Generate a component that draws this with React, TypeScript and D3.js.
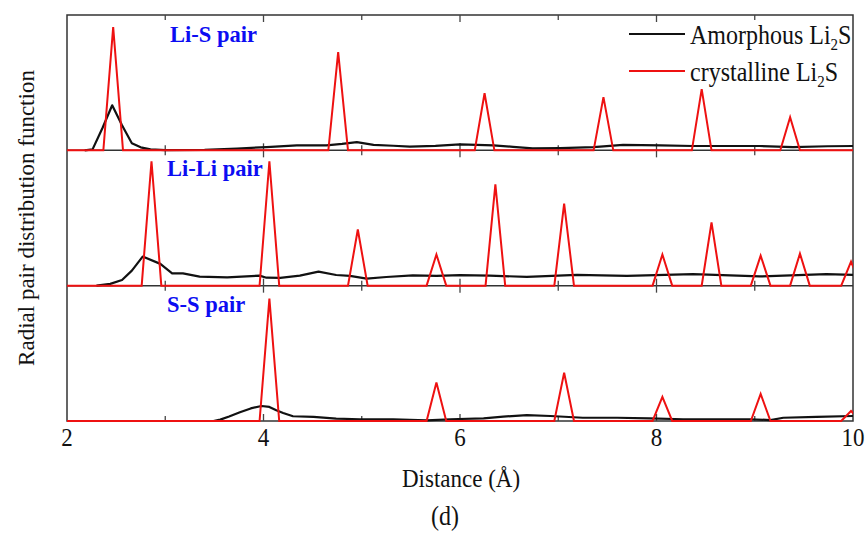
import React from "react";
import * as d3 from "d3";

// ---------- data ----------
const xTicks = [2, 4, 6, 8, 10];
const minorTicks = [3, 4, 5, 6, 7, 8, 9];
const panelLabels = ["Li-S pair", "Li-Li pair", "S-S pair"];
const legendLabels = ["Amorphous Li", "crystalline Li"];

// amorphous Li2S  [distance (Å), g(r)]
const amorphousLiS: [number, number][] = [
  [2.18, 0], [2.26, 0.07], [2.36, 1.63], [2.46, 3.33], [2.56, 1.85], [2.66, 0.52],
  [2.75, 0.22], [2.85, 0.07], [3.0, 0.02], [3.4, 0.04], [3.73, 0.13], [4.03, 0.24],
  [4.34, 0.37], [4.64, 0.37], [4.8, 0.48], [4.95, 0.61], [5.12, 0.4], [5.32, 0.34],
  [5.49, 0.27], [5.75, 0.33], [6.0, 0.44], [6.34, 0.37], [6.54, 0.26], [6.74, 0.15],
  [7.02, 0.17], [7.36, 0.24], [7.66, 0.41], [8.04, 0.37], [8.37, 0.32], [8.72, 0.32],
  [9.05, 0.32], [9.39, 0.24], [9.74, 0.3], [10.0, 0.32],
];
const amorphousLiLi: [number, number][] = [
  [2.3, 0], [2.44, 0.13], [2.56, 0.42], [2.66, 1.11], [2.77, 2.15], [2.95, 1.61],
  [3.07, 0.91], [3.18, 0.91], [3.35, 0.67], [3.63, 0.61], [3.96, 0.74], [4.03, 0.59],
  [4.17, 0.57], [4.37, 0.74], [4.56, 1.04], [4.74, 0.79], [4.88, 0.72], [5.05, 0.52],
  [5.25, 0.64], [5.52, 0.76], [5.76, 0.72], [6.0, 0.78], [6.3, 0.74], [6.68, 0.65],
  [7.19, 0.8], [7.7, 0.73], [8.37, 0.85], [9.05, 0.68], [9.73, 0.85], [10.0, 0.8],
];
const amorphousSS: [number, number][] = [
  [3.49, 0], [3.56, 0.1], [3.65, 0.33], [3.76, 0.64], [3.87, 0.93], [3.98, 1.11],
  [4.06, 1.04], [4.13, 0.79], [4.2, 0.59], [4.3, 0.35], [4.51, 0.3], [4.74, 0.17],
  [4.98, 0.13], [5.32, 0.13], [5.66, 0.05], [5.9, 0.13], [6.24, 0.2], [6.44, 0.32],
  [6.68, 0.44], [6.92, 0.37], [7.25, 0.24], [7.6, 0.24], [7.93, 0.2], [8.27, 0.13],
  [8.61, 0.13], [8.95, 0.13], [9.16, 0.07], [9.29, 0.24], [9.63, 0.3], [10.0, 0.37],
];

// crystalline Li2S peaks [distance (Å), height]
const crystallineLiS: [number, number][] = [
  [2.47, 9.1], [4.76, 7.26], [6.25, 4.22], [7.46, 3.93], [8.46, 4.52], [9.36, 2.44],
];
const crystallineLiLi: [number, number][] = [
  [2.86, 9.19], [4.06, 9.19], [4.96, 4.15], [5.76, 2.3], [6.36, 7.48], [7.06, 6.07],
  [8.06, 2.3], [8.56, 4.67], [9.06, 2.22], [9.46, 2.37], [9.98, 1.78],
];
const crystallineSS: [number, number][] = [
  [4.06, 9.04], [5.76, 2.85], [7.06, 3.56], [8.06, 1.78], [9.06, 2.0], [9.98, 0.74],
];

const amorphousSeries = [amorphousLiS, amorphousLiLi, amorphousSS];
const crystallineSeries = [crystallineLiS, crystallineLiLi, crystallineSS];

// ---------- layout ----------
const W = 866;
const H = 533;
const left = 67;
const right = 853;
const top = 15;
const bottom = 421;
const panelH = (bottom - top) / 3;
const peakHalfWidth = 0.1;
const FONT = "'Liberation Serif', 'Times New Roman', serif";
const RED = "#ee1111";
const BLUE = "#0c0cf2";
const STRETCH = 1.13;

function SText(props: { x: number; y: number; size: number; anchor?: string; children: React.ReactNode }) {
  return (
    <g transform={`translate(${props.x}, ${props.y}) scale(1, ${STRETCH})`}>
      <text x={0} y={0} textAnchor={props.anchor || "start"} fontFamily={FONT} fontSize={props.size} fill="#111">
        {props.children}
      </text>
    </g>
  );
}

export default function App() {
  const x = d3.scaleLinear().domain([2, 10]).range([left, right]);

  const panels = [0, 1, 2].map((i) => {
    const y0 = top + i * panelH;
    const y = d3.scaleLinear().domain([0, 10]).range([y0 + panelH, y0]);
    const line = d3
      .line<[number, number]>()
      .x((d) => x(d[0]))
      .y((d) => y(d[1]));
    const redPts: [number, number][] = [[2, 0]];
    crystallineSeries[i].forEach(([c, h]) => {
      redPts.push([c - peakHalfWidth, 0], [c, h], [c + peakHalfWidth, 0]);
    });
    redPts.push([10.2, 0]);
    return { y0, y, black: line(amorphousSeries[i]) || "", red: line(redPts) || "" };
  });

  const boundaries = [0, 1, 2, 3].map((i) => top + i * panelH);

  return (
    <svg width={W} height={H} style={{ display: "block", position: "absolute", left: 0, top: 0 }}>
      <rect width={W} height={H} fill="#fff" />
      <defs>
        <clipPath id="plotClip">
          <rect x={left} y={top - 2} width={right - left} height={bottom - top + 4} />
        </clipPath>
      </defs>

      {/* frame and separators */}
      <rect x={left} y={top} width={right - left} height={bottom - top} fill="none" stroke="#333" strokeWidth={1.5} />
      {boundaries.slice(1, 3).map((b) => (
        <line key={b} x1={left} x2={right} y1={b} y2={b} stroke="#333" strokeWidth={1.5} />
      ))}

      {/* ticks */}
      {boundaries.map((b, bi) =>
        minorTicks.map((t) => {
          const len = t % 2 === 0 ? 7 : 5;
          const up = bi > 0 ? len : 0;
          const down = bi < 3 ? len : 0;
          return (
            <line key={`${bi}-${t}`} x1={x(t)} x2={x(t)} y1={b - up} y2={b + down} stroke="#444" strokeWidth={1.3} />
          );
        })
      )}

      <g clipPath="url(#plotClip)">
        {panels.map((p, i) => (
          <g key={i}>
            <path d={p.black} fill="none" stroke="#111" strokeWidth={2.2} strokeLinejoin="round" />
            <path d={p.red} fill="none" stroke={RED} strokeWidth={2} strokeLinejoin="miter" />
          </g>
        ))}
      </g>

      {/* panel labels */}
      {panels.map((p, i) => (
        <text
          key={i}
          x={i === 0 ? 170 : 167}
          y={p.y0 + (i === 0 ? 27 : 26)}
          fontFamily={FONT}
          fontWeight="bold"
          fontSize={22.5}
          fill={BLUE}
        >
          {panelLabels[i]}
        </text>
      ))}

      {/* legend */}
      {[0, 1].map((i) => (
        <g key={i}>
          <line x1={629} x2={685} y1={34 + i * 37} y2={34 + i * 37} stroke={i === 0 ? "#111" : RED} strokeWidth={2} />
          <SText x={690} y={44 + i * 37} size={24}>
            {legendLabels[i]}
            <tspan fontSize={15} dy={5}>2</tspan>
            <tspan dy={-5}>S</tspan>
          </SText>
        </g>
      ))}

      {/* x tick labels */}
      {xTicks.map((t) => (
        <SText key={t} x={x(t)} y={446} size={23} anchor="middle">
          {t}
        </SText>
      ))}

      <SText x={461} y={487} size={23} anchor="middle">
        Distance (Å)
      </SText>
      <SText x={445} y={525} size={24} anchor="middle">
        (d)
      </SText>
      <text
        transform={`translate(34, ${(top + bottom) / 2}) rotate(-90)`}
        textAnchor="middle"
        fontFamily={FONT}
        fontSize={23}
        fill="#111"
      >
        Radial pair distribution function
      </text>
    </svg>
  );
}
